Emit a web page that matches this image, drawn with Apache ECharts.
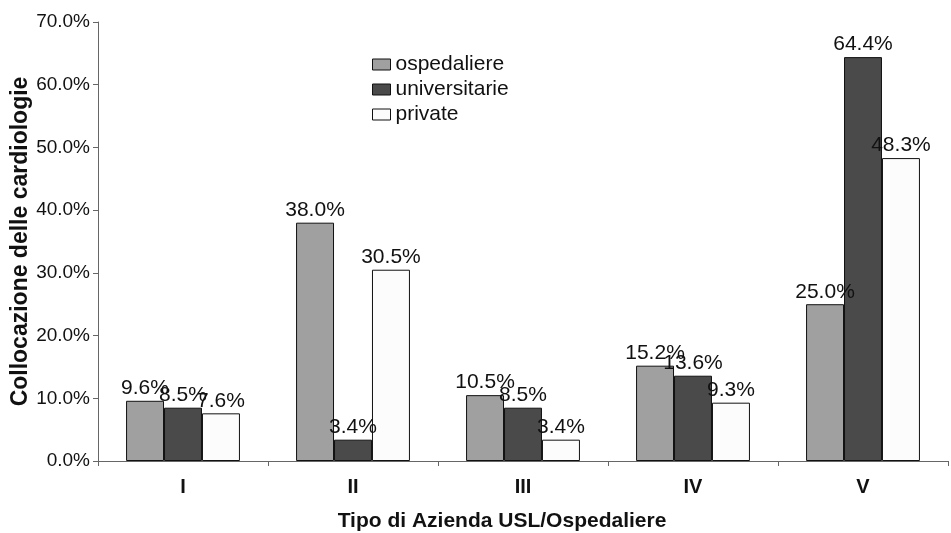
<!DOCTYPE html>
<html>
<head>
<meta charset="utf-8">
<script src="https://cdn.jsdelivr.net/npm/echarts@6/dist/echarts.min.js"></script>
<style>
  html, body { margin: 0; padding: 0; background: #fff; }
  #chart { width: 951px; height: 533px; }
</style>
</head>
<body>
<div id="chart"></div>
<script>
// categories and values
const categories = ['I', 'II', 'III', 'IV', 'V'];
const ospedaliere = [9.6, 38.0, 10.5, 15.2, 25.0];
const universitarie = [8.5, 3.4, 8.5, 13.6, 64.4];
const privateVals = [7.6, 30.5, 3.4, 9.3, 48.3];
const seriesNames = ['ospedaliere', 'universitarie', 'private'];

const font = 'Liberation Sans, Arial, sans-serif';
const chart = echarts.init(document.getElementById('chart'), null, { renderer: 'canvas' });

function barSeries(name, data, color) {
   return {
      name: name,
      type: 'bar',
      data: data,
      barGap: '0%',
      barCategoryGap: '33%',
      itemStyle: { color: color, borderColor: '#111', borderWidth: 1 },
      label: {
         show: true,
         position: 'top',
         distance: 2,
         formatter: (p) => p.value.toFixed(1) + '%',
         color: '#111',
         fontFamily: font,
         fontSize: 21,
      },
   };
}

chart.setOption({
   animation: false,
   grid: { left: 98, right: 3, top: 22, bottom: 72, outerBoundsMode: 'none' },
   legend: {
      orient: 'vertical',
      left: 367,
      top: 49,
      itemWidth: 18,
      itemHeight: 11,
      itemGap: 4,
      itemTextGap: 9,
      icon: 'rect',
      textStyle: { fontFamily: font, fontSize: 21, color: '#111' },
      itemStyle: { borderColor: '#111', borderWidth: 1 },
      data: seriesNames,
   },
   xAxis: {
      type: 'category',
      data: categories,
      name: 'Tipo di Azienda USL/Ospedaliere',
      nameLocation: 'middle',
      nameGap: 50,
      nameMoveOverlap: false,
      // title sits a bit left of the plot centre in the reference
      nameTextStyle: { fontFamily: font, fontSize: 21, fontWeight: 'bold', color: '#111', padding: [0, 42, 0, 0] },
      axisLine: { lineStyle: { color: '#666', width: 1 } },
      axisTick: { show: true, length: 5, lineStyle: { color: '#666' } },
      axisLabel: { fontFamily: font, fontSize: 20, fontWeight: 'bold', color: '#111', margin: 16 },
   },
   yAxis: {
      type: 'value',
      min: 0,
      max: 70,
      interval: 10,
      name: 'Collocazione delle cardiologie',
      nameLocation: 'middle',
      nameGap: 66,
      nameMoveOverlap: false,
      nameTextStyle: { fontFamily: font, fontSize: 23, fontWeight: 'bold', color: '#111' },
      axisLine: { show: true, lineStyle: { color: '#666', width: 1 } },
      axisTick: { show: true, length: 5, lineStyle: { color: '#666' } },
      splitLine: { show: false },
      axisLabel: {
         fontFamily: font,
         fontSize: 19,
         color: '#111',
         margin: 8,
         formatter: (v) => v.toFixed(1) + '%',
      },
   },
   series: [
      barSeries(seriesNames[0], ospedaliere, '#a0a0a0'),
      barSeries(seriesNames[1], universitarie, '#4a4a4a'),
      barSeries(seriesNames[2], privateVals, '#fcfcfc'),
   ],
});
</script>
</body>
</html>
